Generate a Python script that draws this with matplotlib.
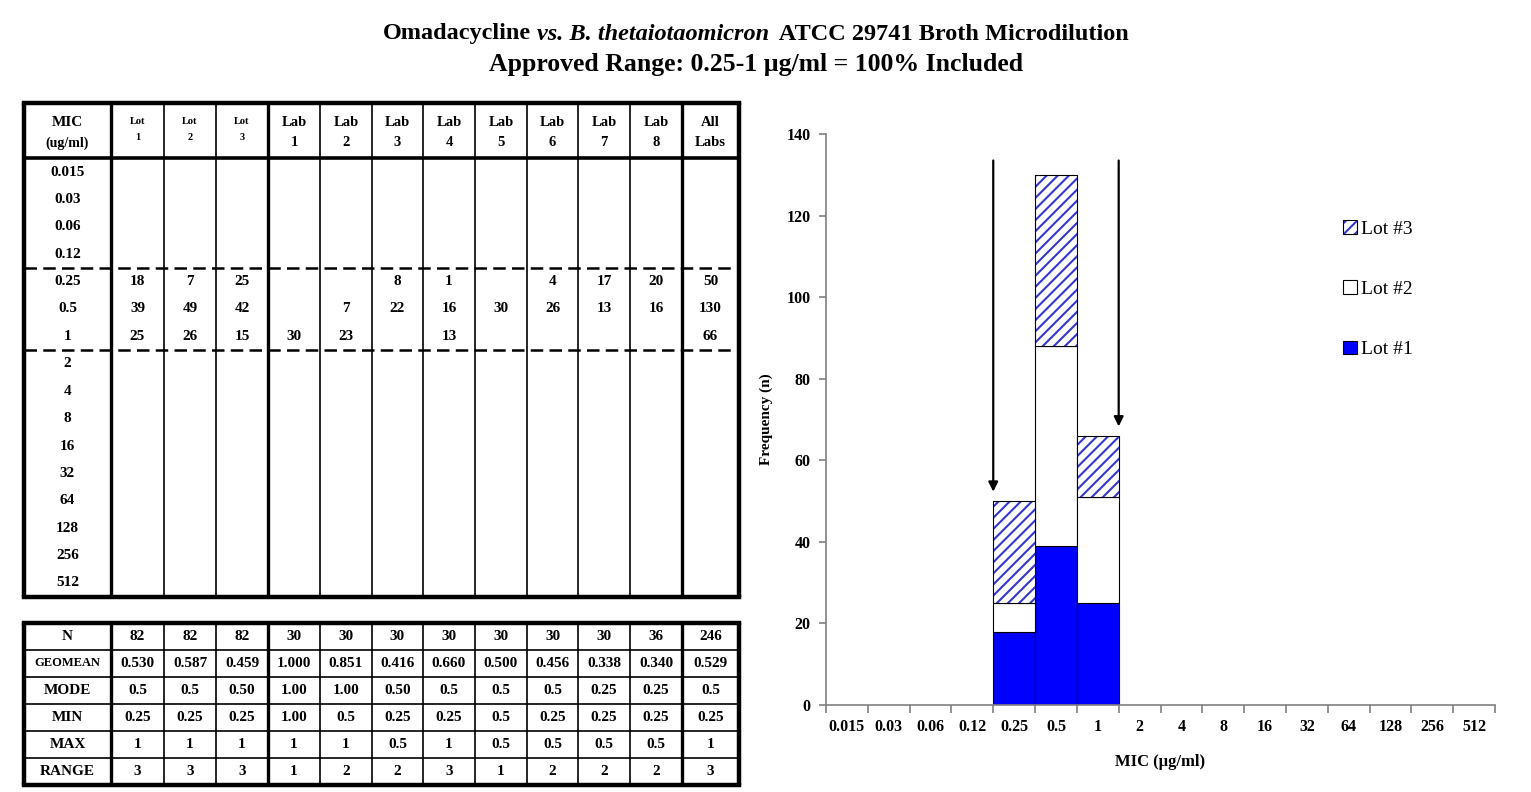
import numpy as np
import matplotlib
matplotlib.use("Agg")
import matplotlib.pyplot as plt
from matplotlib.patches import Patch
from matplotlib.offsetbox import TextArea, HPacker, AnchoredOffsetbox

plt.rcParams['font.family'] = ['Liberation Serif', 'DejaVu Serif']
plt.rcParams['hatch.linewidth'] = 1.5

# ---------------- data ----------------
mic_labels = ['0.015', '0.03', '0.06', '0.12', '0.25', '0.5', '1', '2', '4',
              '8', '16', '32', '64', '128', '256', '512']
col_top = ['Lot', 'Lot', 'Lot', 'Lab', 'Lab', 'Lab', 'Lab', 'Lab', 'Lab', 'Lab', 'Lab', 'All']
col_bottom = ['1', '2', '3', '1', '2', '3', '4', '5', '6', '7', '8', 'Labs']

# counts per MIC row (columns: Lot1-3, Lab1-8, All Labs)
counts = {
    '0.25': [18, 7, 25, None, None, 8, 1, None, 4, 17, 20, 50],
    '0.5':  [39, 49, 42, None, 7, 22, 16, 30, 26, 13, 16, 130],
    '1':    [25, 26, 15, 30, 23, None, 13, None, None, None, None, 66],
}

stat_names = ['N', 'GEOMEAN', 'MODE', 'MIN', 'MAX', 'RANGE']
stat_n = ['82', '82', '82', '30', '30', '30', '30', '30', '30', '30', '36', '246']
stat_geomean = ['0.530', '0.587', '0.459', '1.000', '0.851', '0.416', '0.660',
                '0.500', '0.456', '0.338', '0.340', '0.529']
stat_mode = ['0.5', '0.5', '0.50', '1.00', '1.00', '0.50', '0.5', '0.5', '0.5',
             '0.25', '0.25', '0.5']
stat_min = ['0.25', '0.25', '0.25', '1.00', '0.5', '0.25', '0.25', '0.5', '0.25',
            '0.25', '0.25', '0.25']
stat_max = ['1', '1', '1', '1', '1', '0.5', '1', '0.5', '0.5', '0.5', '0.5', '1']
stat_range = ['3', '3', '3', '1', '2', '2', '3', '1', '2', '2', '2', '3']
stat_rows = [stat_n, stat_geomean, stat_mode, stat_min, stat_max, stat_range]

approved_range = ('0.25', '1')
series_names = ['Lot #1', 'Lot #2', 'Lot #3']

# chart series: lot columns of the count table, aligned with the MIC axis
lots = [np.array([(counts[m][k] or 0) if m in counts else 0 for m in mic_labels], float)
        for k in range(3)]

# ---------------- figure ----------------
W, H = 1531, 792
fig = plt.figure(figsize=(W / 100, H / 100), dpi=100)
lay = fig.add_axes([0, 0, 1, 1])
lay.set_xlim(0, W)
lay.set_ylim(H, 0)
lay.axis('off')

# title
bold = dict(fontweight='bold', fontsize=17.5, family='Liberation Serif')
boldit = dict(fontweight='bold', fontstyle='italic', fontsize=17.5, family='Liberation Serif')
line1 = HPacker(children=[TextArea('Omadacycline', textprops=bold),
                          TextArea('vs. B. thetaiotaomicron', textprops=boldit),
                          TextArea(' ATCC 29741 Broth Microdilution', textprops=bold)],
                pad=0, sep=4, align='baseline')
t1 = AnchoredOffsetbox(loc='center', child=line1, frameon=False, pad=0,
                       bbox_to_anchor=(756 / W, 1 - 34 / H), bbox_transform=fig.transFigure)
fig.add_artist(t1)
fig.text(756 / W, 1 - 64 / H, 'Approved Range: 0.25-1 \u00b5g/ml = 100% Included',
         ha='center', va='center', fontweight='bold', fontsize=18.5,
         family='Liberation Serif')

# ---------------- main table ----------------
col_edges = [24, 111, 164, 216, 268, 320, 372, 423, 475, 527, 578, 630, 682, 739]
thick_idx = {0, 1, 4, 12, 13}
centers = [(a + b) / 2 for a, b in zip(col_edges[:-1], col_edges[1:])]

top, head_bot, bot = 103, 158, 597
row_y0, row_pitch = 172, 27.4
row_y = [row_y0 + i * row_pitch for i in range(len(mic_labels))]

for i, x in enumerate(col_edges):
    lw = 3.2 if i in (0, 13) else (2.4 if i in thick_idx else 1.2)
    lay.plot([x, x], [top, bot], color='black', lw=lw, solid_capstyle='butt')
lay.plot([col_edges[0], col_edges[-1]], [top, top], color='black', lw=3.2)
lay.plot([col_edges[0], col_edges[-1]], [head_bot, head_bot], color='black', lw=2.6)
lay.plot([col_edges[0], col_edges[-1]], [bot, bot], color='black', lw=3.2)
lo_i, hi_i = mic_labels.index(approved_range[0]), mic_labels.index(approved_range[1])
for yd in [(row_y[lo_i - 1] + row_y[lo_i]) / 2, (row_y[hi_i] + row_y[hi_i + 1]) / 2]:
    lay.plot([col_edges[0], col_edges[-1]], [yd, yd], color='black', lw=1.8,
             linestyle=(0, (5, 2.5)))

tb = dict(fontweight='bold', ha='center', va='center')
lay.text(centers[0], 122, 'MIC', fontsize=11, **tb)
lay.text(centers[0], 143, '(ug/ml)', fontsize=10, **tb)
for j, (a, b) in enumerate(zip(col_top, col_bottom)):
    small = a == 'Lot'
    fs = 7.5 if small else 10.5
    lay.text(centers[j + 1], 122, a, fontsize=fs, **tb)
    lay.text(centers[j + 1], 138 if small else 143, b, fontsize=fs, **tb)

for i, m in enumerate(mic_labels):
    lay.text(centers[0], row_y[i], m, fontsize=11, **tb)
    if m in counts:
        for j, v in enumerate(counts[m]):
            if v is not None:
                lay.text(centers[j + 1], row_y[i], str(v), fontsize=11, **tb)

# ---------------- summary table ----------------
s_top, s_pitch = 623, 27
s_bot = s_top + s_pitch * len(stat_names)
for i, x in enumerate(col_edges):
    lw = 3.2 if i in (0, 13) else (2.4 if i in thick_idx else 1.2)
    lay.plot([x, x], [s_top, s_bot], color='black', lw=lw, solid_capstyle='butt')
for r in range(len(stat_names) + 1):
    y = s_top + r * s_pitch
    lw = 3.2 if r in (0, len(stat_names)) else 1.2
    lay.plot([col_edges[0], col_edges[-1]], [y, y], color='black', lw=lw)
for r, (name, vals) in enumerate(zip(stat_names, stat_rows)):
    yc = s_top + (r + 0.5) * s_pitch
    lay.text(centers[0], yc, name, fontsize=9 if name == 'GEOMEAN' else 11, **tb)
    for j, v in enumerate(vals):
        lay.text(centers[j + 1], yc, v, fontsize=11, **tb)

# ---------------- stacked bar chart ----------------
ax_l, ax_r, ax_t, ax_b = 826, 1495, 134, 705
ax = fig.add_axes([ax_l / W, 1 - ax_b / H, (ax_r - ax_l) / W, (ax_b - ax_t) / H])
x = np.arange(len(mic_labels))
blue = '#0000ff'
hatch_blue = '#3636d2'

cum = np.zeros(len(x))
for k, vals in enumerate(lots):
    m = vals > 0
    if k == 0:
        ax.bar(x[m], vals[m], bottom=cum[m], width=1, color=blue,
               edgecolor='black', lw=0.8, zorder=2)
    elif k == 1:
        ax.bar(x[m], vals[m], bottom=cum[m], width=1, color='white',
               edgecolor='black', lw=0.8, zorder=2)
    else:
        ax.bar(x[m], vals[m], bottom=cum[m], width=1, color='white',
               edgecolor=hatch_blue, hatch='///', lw=0, zorder=2)
        ax.bar(x[m], vals[m], bottom=cum[m], width=1, fill=False,
               edgecolor='black', lw=0.8, zorder=3)
    cum += vals

# arrows marking the approved range
for xb, idx in [(lo_i - 0.5, lo_i), (hi_i + 0.5, hi_i)]:
    ax.annotate('', xy=(xb, cum[idx] + 2.3), xytext=(xb, 133.5),
                arrowprops=dict(arrowstyle='-|>', color='black', lw=1.6,
                                mutation_scale=14, shrinkA=0, shrinkB=0),
                annotation_clip=False)

ax.set_xlim(-0.5, len(x) - 0.5)
ax.set_ylim(0, 140)
for s in ('top', 'right'):
    ax.spines[s].set_visible(False)
for s in ('left', 'bottom'):
    ax.spines[s].set_color('#808080')
    ax.spines[s].set_linewidth(1.2)
ax.set_xticks(x)
ax.set_xticklabels(mic_labels, fontweight='bold', fontsize=11.5)
ax.set_xticks(np.arange(-0.5, len(x)), minor=True)
ax.tick_params(axis='x', which='major', length=0, pad=10)
ax.tick_params(axis='x', which='minor', length=6, width=1.2, color='#808080', direction='out')
ax.set_yticks(np.arange(0, 141, 20))
ax.tick_params(axis='y', length=5, width=1.2, color='#808080', direction='out', pad=6)
for lab in ax.get_yticklabels():
    lab.set_fontweight('bold')
    lab.set_fontsize(11.5)
ax.set_ylabel('Frequency (n)', fontweight='bold', fontsize=11, labelpad=10)
ax.set_xlabel('MIC (\u00b5g/ml)', fontweight='bold', fontsize=12, labelpad=14)

h1 = Patch(facecolor=blue, edgecolor='black', lw=0.8)
h2 = Patch(facecolor='white', edgecolor='black', lw=0.8)
h3 = (Patch(facecolor='white', edgecolor=hatch_blue, hatch='///', lw=0),
      Patch(fill=False, edgecolor='black', lw=0.8))
fig.legend([h3, h2, h1], series_names[::-1], loc='upper left',
           bbox_to_anchor=(1343 / W, 1 - 220 / H), frameon=False, fontsize=14,
           handlelength=0.7, handleheight=0.7, handletextpad=0.25,
           labelspacing=2.2, borderpad=0, borderaxespad=0)

fig.savefig('out.png', dpi=100)
